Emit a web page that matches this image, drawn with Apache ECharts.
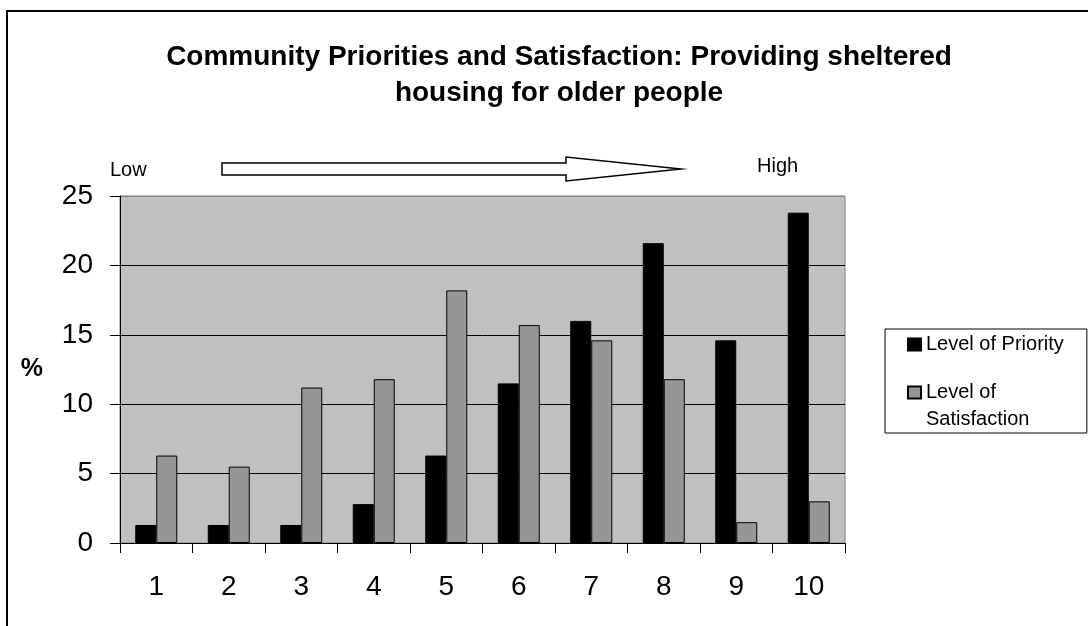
<!DOCTYPE html>
<html><head><meta charset="utf-8">
<script src="https://cdn.jsdelivr.net/npm/echarts@6/dist/echarts.min.js"></script>
<style>html,body{margin:0;padding:0;background:#fff}#c{width:1088px;height:626px}</style>
</head><body><div id="c"></div>
<script>
const categories = ['1','2','3','4','5','6','7','8','9','10'];
const priority = [1.3, 1.3, 1.3, 2.8, 6.3, 11.5, 16.0, 21.6, 14.6, 23.8];
const satisfaction = [6.3, 5.5, 11.2, 11.8, 18.2, 15.7, 14.6, 11.8, 1.5, 3.0];
const seriesNames = ['Level of Priority', 'Level of Satisfaction'];
const titleText = 'Community Priorities and Satisfaction: Providing sheltered\nhousing for older people';
const yMin = 0, yMax = 25, yInterval = 5;

const FONT = '"Liberation Sans", Arial, sans-serif';
const chart = echarts.init(document.getElementById('c'), null, {renderer: 'canvas'});
chart.setOption({
  animation: false,
  backgroundColor: '#fff',
  title: {
    text: titleText,
    left: 554, textAlign: 'center', top: 34,
    textStyle: {fontFamily: FONT, fontSize: 28, fontWeight: 'bold', color: '#000', lineHeight: 36}
  },
  grid: {left: 120, right: 243, top: 196, bottom: 83, show: true,
         backgroundColor: '#C0C0C0', borderColor: '#808080', borderWidth: 1},
  legend: {
    orient: 'vertical', left: 885, top: 329,
    padding: [2, 23, 0, 22], itemGap: -6,
    itemWidth: 13, itemHeight: 12,
    borderColor: '#000', borderWidth: 1, backgroundColor: '#fff',
    icon: 'rect',
    textStyle: {fontFamily: FONT, fontSize: 20, color: '#000', lineHeight: 27},
    formatter: function (n) { return n === seriesNames[1] ? '\nLevel of\nSatisfaction' : n; },
    data: seriesNames
  },
  xAxis: {
    type: 'category', data: categories,
    axisLine: {lineStyle: {color: '#000', width: 1}},
    axisTick: {show: true, length: 10, lineStyle: {color: '#000'}},
    axisLabel: {fontFamily: FONT, fontSize: 28, color: '#000', margin: 30},
    splitLine: {show: false}
  },
  yAxis: {
    type: 'value', min: yMin, max: yMax, interval: yInterval,
    name: '%', nameLocation: 'middle', nameRotate: 0, nameGap: 77,
    nameTextStyle: {fontFamily: FONT, fontSize: 25, fontWeight: 'bold', color: '#000'},
    axisLine: {show: true, lineStyle: {color: '#000', width: 1}},
    axisTick: {show: true, length: 10, lineStyle: {color: '#000'}},
    axisLabel: {fontFamily: FONT, fontSize: 28, color: '#000', margin: 27},
    splitLine: {show: true, lineStyle: {color: ['#000','#000','#000','#000','#000','#808080'], width: 1}}
  },
  series: [
    {name: seriesNames[0], type: 'bar', data: priority, barWidth: 21, barGap: '0%',
     itemStyle: {color: '#000', borderColor: '#000', borderWidth: 1}},
    {name: seriesNames[1], type: 'bar', data: satisfaction, barWidth: 21, barGap: '0%',
     itemStyle: {color: '#969696', borderColor: '#000', borderWidth: 1}}
  ],
  graphic: [
    {type: 'rect', shape: {x: 7, y: 11, width: 1200, height: 700}, silent: true, z: -10,
     style: {fill: 'none', stroke: '#000', lineWidth: 2}},
    {type: 'text', x: 110, y: 170, silent: true,
     style: {text: 'Low', fontFamily: FONT, fontSize: 20, fill: '#000', verticalAlign: 'middle'}},
    {type: 'text', x: 757, y: 166, silent: true,
     style: {text: 'High', fontFamily: FONT, fontSize: 20, fill: '#000', verticalAlign: 'middle'}},
    {type: 'polygon', silent: true,
     shape: {points: [[222,163],[566,163],[566,157],[681,169],[566,181],[566,175],[222,175]]},
     style: {fill: '#fff', stroke: '#000', lineWidth: 1.5}}
  ]
});
</script></body></html>
